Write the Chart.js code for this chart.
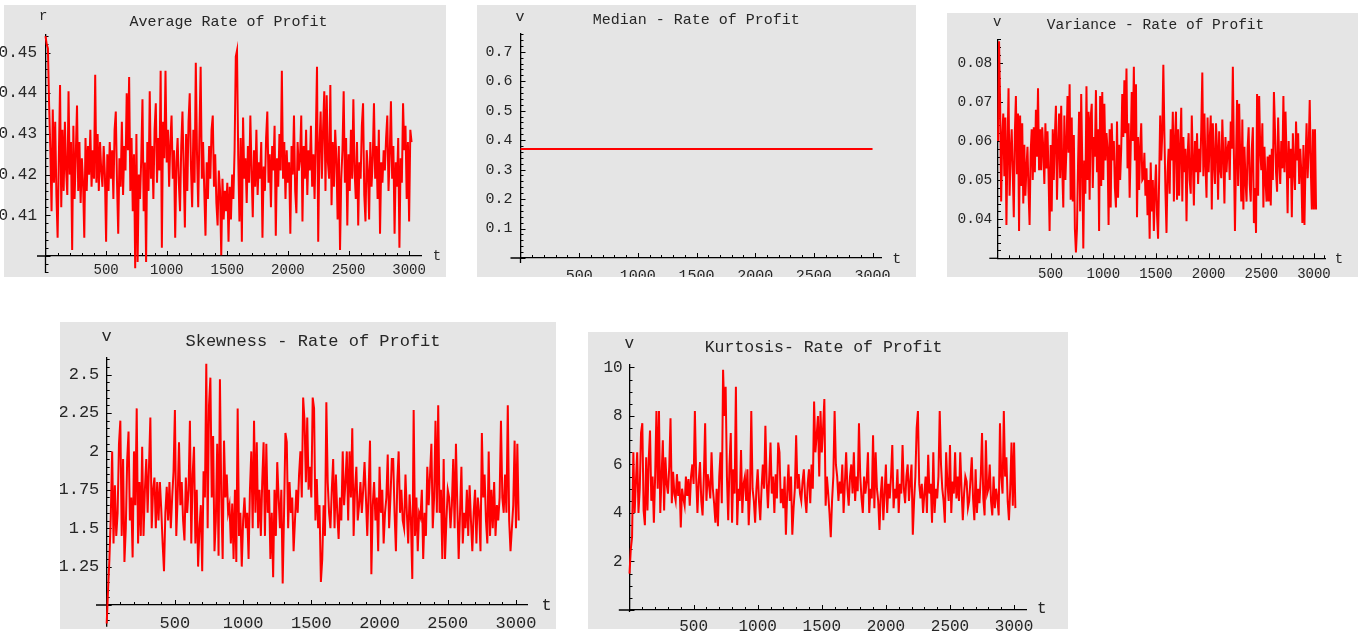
<!DOCTYPE html>
<html><head><meta charset="utf-8">
<script src="https://cdn.jsdelivr.net/npm/chart.js@4.4.1/dist/chart.umd.min.js"></script>
<style>
html,body{margin:0;padding:0;background:#fff;}
body{width:1367px;height:635px;position:relative;overflow:hidden;}
canvas{position:absolute;}
</style></head><body>
<canvas id="c1" width="446" height="272" style="left:0px;top:5px"></canvas>
<canvas id="c2" width="439" height="272" style="left:477px;top:5px"></canvas>
<canvas id="c3" width="411" height="272" style="left:947px;top:13px"></canvas>
<canvas id="c4" width="496" height="313" style="left:60px;top:322px"></canvas>
<canvas id="c5" width="480" height="303" style="left:588px;top:332px"></canvas>
<script>
// ---------- data ----------
const T_STEP = 10; // time step between samples

const TITLES = ['Average Rate of Profit', 'Median - Rate of Profit', 'Variance - Rate of Profit', 'Skewness - Rate of Profit', 'Kurtosis- Rate of Profit'];
const Y_NAMES = ['r', 'v', 'v', 'v', 'v'];
const X_NAME = 't';

const X_TICKS = [500, 1000, 1500, 2000, 2500, 3000];
const X_TICK_LABELS = ['500', '1000', '1500', '2000', '2500', '3000'];

const AVG_Y_TICKS = [0.41, 0.42, 0.43, 0.44, 0.45];
const AVG_Y_LABELS = ['0.41', '0.42', '0.43', '0.44', '0.45'];
const MED_Y_TICKS = [0.1, 0.2, 0.3, 0.4, 0.5, 0.6, 0.7];
const MED_Y_LABELS = ['0.1', '0.2', '0.3', '0.4', '0.5', '0.6', '0.7'];
const VAR_Y_TICKS = [0.04, 0.05, 0.06, 0.07, 0.08];
const VAR_Y_LABELS = ['0.04', '0.05', '0.06', '0.07', '0.08'];
const SKEW_Y_TICKS = [1.25, 1.5, 1.75, 2, 2.25, 2.5];
const SKEW_Y_LABELS = ['1.25', '1.5', '1.75', '2', '2.25', '2.5'];
const KURT_Y_TICKS = [2, 4, 6, 8, 10];
const KURT_Y_LABELS = ['2', '4', '6', '8', '10'];

const AVG_RATE = [
 0.454,0.452,0.451,0.437,0.426,0.411,0.436,0.418,0.433,0.415,
 0.4045,0.424,0.442,0.412,0.431,0.416,0.433,0.421,0.415,0.4405,
 0.42,0.428,0.4015,0.432,0.414,0.425,0.437,0.416,0.428,0.413,
 0.424,0.418,0.4045,0.429,0.416,0.427,0.42,0.431,0.417,0.426,
 0.419,0.4445,0.418,0.43,0.416,0.428,0.421,0.417,0.427,0.42,
 0.4035,0.425,0.416,0.428,0.419,0.426,0.414,0.431,0.4355,0.418,
 0.4055,0.424,0.417,0.433,0.415,0.427,0.421,0.44,0.426,0.444,
 0.416,0.429,0.411,0.425,0.397,0.43,0.3985,0.42,0.414,0.424,
 0.4385,0.411,0.423,0.3985,0.428,0.416,0.4405,0.419,0.427,0.414,
 0.431,0.4375,0.418,0.429,0.421,0.4455,0.402,0.433,0.424,0.4455,
 0.423,0.431,0.417,0.428,0.4345,0.419,0.426,0.4045,0.423,0.429,
 0.418,0.411,0.427,0.4355,0.421,0.407,0.43,0.416,0.433,0.44,
 0.422,0.412,0.431,0.418,0.4475,0.425,0.412,0.43,0.4465,0.419,
 0.428,0.416,0.405,0.423,0.414,0.427,0.419,0.431,0.4345,0.417,
 0.425,0.413,0.4075,0.421,0.416,0.4002,0.419,0.409,0.416,0.411,
 0.418,0.4035,0.417,0.409,0.42,0.414,0.426,0.449,0.4505,0.4245,
 0.4085,0.429,0.4035,0.434,0.419,0.424,0.413,0.427,0.418,0.4345,
 0.421,0.4095,0.426,0.417,0.431,0.415,0.423,0.419,0.428,0.4045,
 0.422,0.416,0.429,0.4355,0.418,0.425,0.412,0.427,0.421,0.432,
 0.405,0.424,0.417,0.43,0.421,0.4455,0.419,0.428,0.414,0.426,
 0.418,0.423,0.4055,0.427,0.42,0.4345,0.416,0.4105,0.428,0.421,
 0.424,0.4345,0.4085,0.427,0.419,0.431,0.415,0.426,0.421,0.432,
 0.417,0.425,0.414,0.429,0.4465,0.4035,0.427,0.4355,0.419,0.431,
 0.4405,0.416,0.4395,0.423,0.419,0.442,0.4125,0.428,0.417,0.431,
 0.424,0.409,0.427,0.4015,0.419,0.426,0.4405,0.418,0.429,0.4075,
 0.425,0.416,0.431,0.419,0.4385,0.421,0.414,0.428,0.4075,0.423,
 0.419,0.432,0.4375,0.415,0.4085,0.426,0.421,0.409,0.428,0.417,
 0.424,0.4375,0.419,0.427,0.414,0.431,0.4055,0.423,0.418,0.426,
 0.421,0.429,0.4345,0.416,0.425,0.438,0.419,0.427,0.4055,0.423,
 0.417,0.429,0.402,0.424,0.418,0.4375,0.426,0.432,0.414,0.428,
 0.4085,0.431,0.428
];

const MEDIAN_T = [0, 3000];
const MEDIAN_RATE = [0.37, 0.37];

const VARIANCE = [
 0.060,0.0855,0.070,0.0445,0.061,0.067,0.051,0.066,0.0385,0.058,
 0.0735,0.046,0.057,0.063,0.052,0.0405,0.062,0.0715,0.0515,0.067,
 0.037,0.0665,0.0485,0.0645,0.044,0.059,0.046,0.053,0.0585,0.047,
 0.0385,0.057,0.063,0.05,0.0635,0.052,0.068,0.056,0.0735,0.0525,
 0.063,0.0525,0.0635,0.058,0.049,0.0645,0.053,0.0625,0.0515,0.037,
 0.059,0.042,0.063,0.05,0.0615,0.069,0.045,0.058,0.067,0.0505,
 0.069,0.053,0.043,0.0665,0.05,0.058,0.0715,0.057,0.0745,0.045,
 0.066,0.0445,0.0615,0.0375,0.0315,0.0375,0.054,0.0675,0.042,0.072,
 0.055,0.0325,0.055,0.0465,0.074,0.05,0.0675,0.045,0.066,0.0695,
 0.048,0.061,0.056,0.073,0.052,0.063,0.037,0.0715,0.0485,0.0725,
 0.05,0.0695,0.055,0.062,0.058,0.0385,0.063,0.043,0.0645,0.055,
 0.06,0.048,0.043,0.065,0.0455,0.059,0.05,0.058,0.072,0.061,
 0.0755,0.062,0.0785,0.053,0.0645,0.0455,0.058,0.0725,0.06,0.079,
 0.055,0.0745,0.0405,0.061,0.0475,0.058,0.0645,0.05,0.0505,0.057,
 0.046,0.053,0.041,0.05,0.035,0.0545,0.042,0.05,0.037,0.047,
 0.054,0.041,0.035,0.05,0.0665,0.055,0.062,0.0795,0.062,0.047,
 0.0365,0.052,0.058,0.0465,0.063,0.055,0.0675,0.0445,0.06,0.0675,
 0.045,0.063,0.046,0.058,0.0685,0.0445,0.061,0.052,0.058,0.0395,
 0.056,0.062,0.05,0.0465,0.0665,0.055,0.0435,0.06,0.052,0.062,
 0.049,0.058,0.052,0.063,0.0775,0.051,0.067,0.054,0.0455,0.066,
 0.052,0.06,0.0665,0.0425,0.0645,0.055,0.049,0.0645,0.058,0.045,
 0.0625,0.053,0.0505,0.0655,0.056,0.044,0.061,0.052,0.058,0.06,
 0.05,0.065,0.058,0.079,0.0565,0.037,0.055,0.0705,0.0485,0.0695,
 0.056,0.0445,0.0655,0.0425,0.0585,0.05,0.0445,0.058,0.0635,0.049,
 0.0445,0.058,0.0635,0.039,0.048,0.0365,0.072,0.046,0.0715,0.058,
 0.0525,0.0645,0.043,0.0585,0.05,0.0445,0.056,0.0445,0.0565,0.0435,
 0.058,0.05,0.0725,0.063,0.052,0.047,0.066,0.055,0.049,0.06,
 0.053,0.0715,0.052,0.0675,0.056,0.0415,0.06,0.0505,0.058,0.0405,
 0.062,0.053,0.0475,0.065,0.055,0.062,0.049,0.058,0.052,0.039,
 0.059,0.0385,0.0545,0.0645,0.0505,0.058,0.0705,0.053,0.0425,0.063,
 0.0425,0.063,0.0425
];

const SKEWNESS = [
 0.88,1.1,1.3,1.58,2.0,1.4,1.78,1.45,1.6,2.05,
 2.2,1.45,1.95,1.28,1.5,1.94,2.13,1.55,1.7,1.31,
 2.0,1.65,2.28,1.4,1.8,1.45,2.03,1.45,1.75,1.95,
 1.6,1.9,2.22,1.5,1.75,1.83,1.5,1.8,1.55,1.8,
 1.62,1.4,1.22,1.6,1.77,1.55,1.8,1.5,1.7,1.87,
 2.27,1.45,1.7,2.06,1.65,1.8,1.55,1.42,1.83,1.6,
 1.75,2.2,1.4,1.85,2.03,1.4,1.75,1.25,1.5,1.65,
 1.22,1.87,1.7,2.57,1.5,2.3,2.48,1.7,2.1,1.35,
 1.55,2.05,1.32,2.47,1.7,1.3,2.07,1.7,1.85,1.6,
 1.65,1.4,1.66,1.3,1.75,1.28,2.28,1.45,1.6,1.25,
 1.55,1.7,1.5,1.6,1.3,1.75,2.0,1.5,2.2,1.6,
 2.06,1.5,1.75,1.45,1.8,2.06,1.45,2.05,1.6,1.75,
 1.3,1.6,1.18,1.75,1.45,1.93,1.7,1.5,1.75,1.14,
 1.6,2.12,2.06,1.5,1.8,1.6,1.7,1.35,1.55,1.75,
 1.6,1.85,2.0,1.7,2.35,2.2,1.8,2.22,1.75,1.9,
 1.7,2.35,2.28,1.55,1.82,1.5,1.65,1.15,1.3,1.65,
 1.45,2.32,1.8,1.6,1.5,1.75,1.95,1.5,1.85,1.6,
 1.43,1.7,1.55,2.0,1.65,1.8,2.0,1.55,2.0,1.7,
 2.15,1.45,1.75,1.9,1.55,1.65,1.8,1.6,1.75,1.93,
 1.7,1.45,1.75,2.07,1.2,1.65,1.8,1.55,1.7,1.35,
 1.9,1.6,1.75,1.4,1.6,1.7,1.98,1.5,1.7,1.95,
 1.95,1.6,1.35,1.8,2.0,1.6,1.75,1.55,1.5,1.85,
 1.6,1.4,1.72,1.55,1.17,2.27,1.45,1.7,1.35,1.6,
 1.57,1.75,1.3,1.6,1.45,1.9,1.65,1.85,2.05,1.5,
 1.7,2.2,1.6,2.3,1.6,1.75,1.3,1.95,1.3,1.55,
 1.75,1.7,1.5,1.65,1.95,1.5,2.05,1.65,1.3,1.6,
 1.9,1.4,1.6,1.5,1.75,1.45,1.78,1.55,1.35,1.6,
 1.75,1.4,1.7,1.6,1.35,2.12,1.7,1.85,1.55,1.4,
 2.0,1.45,1.75,1.5,1.8,1.45,1.65,1.55,1.7,2.2,
 1.7,1.6,1.85,1.6,2.3,1.55,1.35,1.5,1.65,2.07,
 1.5,2.05,1.55
];

const KURTOSIS = [
 1.5,2.5,3.0,6.5,4.0,5.3,6.5,4.0,5.0,7.3,
 7.7,4.1,3.5,6.3,4.1,6.2,7.4,4.5,5.5,3.6,
 5.5,8.2,5.0,8.2,4.0,5.5,7.0,4.1,6.3,5.2,
 4.8,5.9,7.9,4.4,5.7,4.8,4.5,5.6,4.7,5.3,
 3.4,5.0,4.6,4.3,5.5,4.7,5.4,4.3,5.5,6.0,
 5.2,8.2,5.5,4.0,5.3,6.1,4.5,3.9,5.5,7.7,
 4.5,5.6,5.2,4.6,6.5,5.0,4.4,3.6,5.0,3.45,
 5.5,6.5,4.4,9.9,8.0,9.2,5.5,3.7,6.0,7.3,
 3.6,5.8,4.8,9.2,3.5,5.0,4.5,6.6,4.0,5.2,
 5.5,4.5,5.8,3.5,4.8,8.2,5.0,4.5,3.6,5.0,
 5.8,4.5,3.7,5.0,6.0,5.0,7.6,5.3,4.2,5.5,
 6.9,4.8,5.5,4.0,5.6,4.6,6.9,6.5,4.4,5.0,
 4.2,5.5,3.1,4.8,6.0,4.5,5.5,3.1,4.2,5.0,
 7.2,5.0,5.6,4.8,4.5,5.3,5.8,4.6,4.0,5.2,
 5.8,4.4,6.0,5.0,8.6,6.5,7.2,8.0,5.5,8.2,
 6.5,7.5,8.7,4.3,5.5,4.8,4.0,3.0,4.5,5.5,
 8.2,6.0,5.5,4.5,5.3,4.8,6.0,4.0,5.2,6.5,
 5.0,4.3,5.5,6.0,4.8,6.5,4.5,5.5,4.9,7.7,
 5.5,4.6,4.0,5.5,4.8,5.3,6.5,4.0,5.0,4.6,
 7.2,4.2,6.5,5.0,4.5,3.3,4.8,5.5,3.7,4.8,
 6.0,4.0,5.2,4.6,5.5,6.8,4.2,5.0,4.6,5.8,
 4.0,5.2,4.8,6.8,5.0,4.4,5.5,6.0,4.5,5.3,
 6.0,3.1,4.5,5.5,7.5,8.2,5.2,4.6,5.2,4.0,
 4.8,5.5,4.0,6.4,4.8,5.2,3.6,6.5,4.0,5.0,
 4.6,5.5,8.2,6.0,5.0,4.5,3.6,6.5,5.2,4.5,
 6.8,4.0,5.3,4.8,6.5,4.6,5.5,4.5,6.5,5.0,
 3.7,4.8,5.5,5.3,4.2,4.5,5.4,6.3,4.6,3.7,
 5.8,4.0,5.0,4.4,5.5,7.3,4.6,3.9,7.0,4.8,
 5.0,6.0,4.5,3.9,5.5,4.2,5.0,4.6,3.9,7.7,
 5.5,4.8,8.2,5.5,6.3,4.5,3.7,5.0,6.9,4.3,
 6.9,4.2
];

// ---------- drawing ----------
const FONT = '"Liberation Mono", "DejaVu Sans Mono", monospace';
const BG = '#e5e5e5';
const RED = '#ff0000';
const TEXT = '#262626';

function toPoints(values) { return values.map((v, i) => ({ x: i * T_STEP, y: v })); }
function toPointsT(ts, values) { return values.map((v, i) => ({ x: ts[i], y: v })); }

const PANELS = [
  { id: 'c1', points: toPoints(AVG_RATE), yTicks: AVG_Y_TICKS, yLabels: AVG_Y_LABELS, title: TITLES[0], yName: Y_NAMES[0],
    bg: [4, 0, 442, 272], padTop: 30, padRight: 25, yAxisW: 45.5, xAxisH: 21, xMax: 3098, yMin: 0.40, yMax: 0.4543,
    xPad: 5.6, yPad: 8.5, font: 14, yFont: 16, titleFont: 15, titleX: 228.5, titleY: 17.3, yNameX: 43.3, yNameY: 11, tX: 437, tY: 251,
    extX: 8.5, extY: 17, yMinor: 0.002, yMajor: 0.01 },
  { id: 'c2', points: toPointsT(MEDIAN_T, MEDIAN_RATE), yTicks: MED_Y_TICKS, yLabels: MED_Y_LABELS, title: TITLES[1], yName: Y_NAMES[1],
    bg: [0, 0, 439, 272], padTop: 28.3, padRight: 34.3, yAxisW: 43.5, xAxisH: 19, xMax: 3078, yMin: 0, yMax: 0.7625,
    xPad: 9, yPad: 8, font: 15, yFont: 15, titleFont: 15, titleX: 219.3, titleY: 15, yNameX: 43, yNameY: 11.7, tX: 419.7, tY: 254,
    extX: 10, extY: 5, yMinor: 0.02, yMajor: 0.1 },
  { id: 'c3', points: toPoints(VARIANCE), yTicks: VAR_Y_TICKS, yLabels: VAR_Y_LABELS, title: TITLES[2], yName: Y_NAMES[2],
    bg: [0, 0, 411, 264], padTop: 26.3, padRight: 33, yAxisW: 51, xAxisH: 26.7, xMax: 3105, yMin: 0.03, yMax: 0.086,
    xPad: 7.3, yPad: 5.7, font: 14, yFont: 14.5, titleFont: 14.5, titleX: 208.5, titleY: 12, yNameX: 50.3, yNameY: 9.7, tX: 392, tY: 246.3,
    extX: 8.7, extY: 0, yMinor: 0.002, yMajor: 0.01 },
  { id: 'c4', points: toPoints(SKEWNESS), yTicks: SKEW_Y_TICKS, yLabels: SKEW_Y_LABELS, title: TITLES[3], yName: Y_NAMES[3],
    bg: [0, 0, 496, 307], padTop: 35.7, padRight: 28.7, yAxisW: 46.7, xAxisH: 30, xMax: 3083, yMin: 1.0, yMax: 2.61,
    xPad: 8.1, yPad: 7.4, font: 17, yFont: 17, titleFont: 17, titleX: 253, titleY: 19, yNameX: 46.7, yNameY: 14.7, tX: 486.7, tY: 283.7,
    extX: 10.7, extY: 21.7, yMinor: 0.05, yMajor: 0.25 },
  { id: 'c5', points: toPoints(KURTOSIS), yTicks: KURT_Y_TICKS, yLabels: KURT_Y_LABELS, title: TITLES[4], yName: Y_NAMES[4],
    bg: [0, 0, 480, 297], padTop: 32.3, padRight: 42, yAxisW: 41.5, xAxisH: 25, xMax: 3093, yMin: 0, yMax: 10.13,
    xPad: 7.1, yPad: 6.8, font: 16, yFont: 16, titleFont: 16.5, titleX: 235.5, titleY: 15.7, yNameX: 41.3, yNameY: 11.3, tX: 453.7, tY: 277,
    extX: 10.7, extY: 2, yMinor: 0.5, yMajor: 2 }
];

function panelPlugin(p) {
  return {
    id: 'panel_' + p.id,
    beforeDraw(chart) {
      const ctx = chart.ctx;
      ctx.save();
      ctx.fillStyle = BG;
      ctx.fillRect(p.bg[0], p.bg[1], p.bg[2], p.bg[3]);
      ctx.restore();
    },
    beforeDatasetsDraw(chart) {
      const { ctx, scales: { x, y } } = chart;
      const ax = x.getPixelForValue(0);
      const ay = y.getPixelForValue(p.yMin);
      ctx.save();
      ctx.strokeStyle = '#000';
      ctx.lineWidth = 1.3;
      ctx.beginPath();
      ctx.moveTo(ax - p.extX, ay); ctx.lineTo(ax, ay);
      if (p.extY > 0) { ctx.moveTo(ax, ay); ctx.lineTo(ax, ay + p.extY); }
      ctx.stroke();
      ctx.lineWidth = 1;
      ctx.beginPath();
      for (let k = 1; k * 100 <= x.max; k++) {
        const v = k * 100;
        const px = Math.round(x.getPixelForValue(v)) + 0.5;
        const len = (v % 500 === 0) ? 5 : 3;
        ctx.moveTo(px, ay); ctx.lineTo(px, ay - len);
      }
      const yLow = y.getValueForPixel(ay + p.extY);
      const k0 = Math.ceil(yLow / p.yMinor - 1e-6), k1 = Math.floor(y.max / p.yMinor + 1e-6);
      for (let k = k0; k <= k1; k++) {
        const v = k * p.yMinor;
        const r = v / p.yMajor;
        const major = Math.abs(r - Math.round(r)) < 1e-6;
        const py = Math.round(y.getPixelForValue(v)) + 0.5;
        ctx.moveTo(ax, py); ctx.lineTo(ax + (major ? 5 : 3), py);
      }
      ctx.stroke();
      ctx.restore();
    },
    afterDraw(chart) {
      const ctx = chart.ctx;
      ctx.save();
      ctx.fillStyle = TEXT;
      ctx.textAlign = 'center';
      ctx.textBaseline = 'middle';
      ctx.font = p.titleFont + 'px ' + FONT;
      ctx.fillText(p.title, p.titleX, p.titleY);
      ctx.font = p.font + 'px ' + FONT;
      ctx.fillText(p.yName, p.yNameX, p.yNameY);
      ctx.fillText(X_NAME, p.tX, p.tY);
      ctx.restore();
    }
  };
}

function makeChart(p) {
  const canvas = document.getElementById(p.id);
  return new Chart(canvas, {
    type: 'line',
    data: {
      datasets: [{
        data: p.points,
        borderColor: RED,
        borderWidth: 2,
        pointRadius: 0,
        tension: 0,
        fill: false,
        clip: false
      }]
    },
    options: {
      responsive: false,
      animation: false,
      events: [],
      layout: { padding: { left: 0, top: p.padTop, right: p.padRight, bottom: 0 } },
      plugins: { legend: { display: false }, tooltip: { enabled: false }, title: { display: false } },
      scales: {
        x: {
          type: 'linear', position: 'bottom', min: 0, max: p.xMax,
          afterFit: (s) => { s.height = p.xAxisH; },
          afterBuildTicks: (s) => { s.ticks = X_TICKS.map(v => ({ value: v })); },
          ticks: {
            autoSkip: false, maxRotation: 0, minRotation: 0, padding: p.xPad, color: TEXT,
            font: { family: FONT, size: p.font },
            callback: (v, i) => X_TICK_LABELS[i]
          },
          grid: { display: true, drawOnChartArea: false, drawTicks: false },
          border: { display: true, color: '#000', width: 1.3 }
        },
        y: {
          type: 'linear', position: 'left', min: p.yMin, max: p.yMax,
          afterFit: (s) => { s.width = p.yAxisW; },
          afterBuildTicks: (s) => { s.ticks = p.yTicks.map(v => ({ value: v })); },
          ticks: {
            autoSkip: false, padding: p.yPad, color: TEXT,
            font: { family: FONT, size: p.yFont },
            callback: (v, i) => p.yLabels[i]
          },
          grid: { display: true, drawOnChartArea: false, drawTicks: false },
          border: { display: true, color: '#000', width: 1.3 }
        }
      }
    },
    plugins: [panelPlugin(p)]
  });
}

PANELS.forEach(makeChart);
</script>
</body></html>
